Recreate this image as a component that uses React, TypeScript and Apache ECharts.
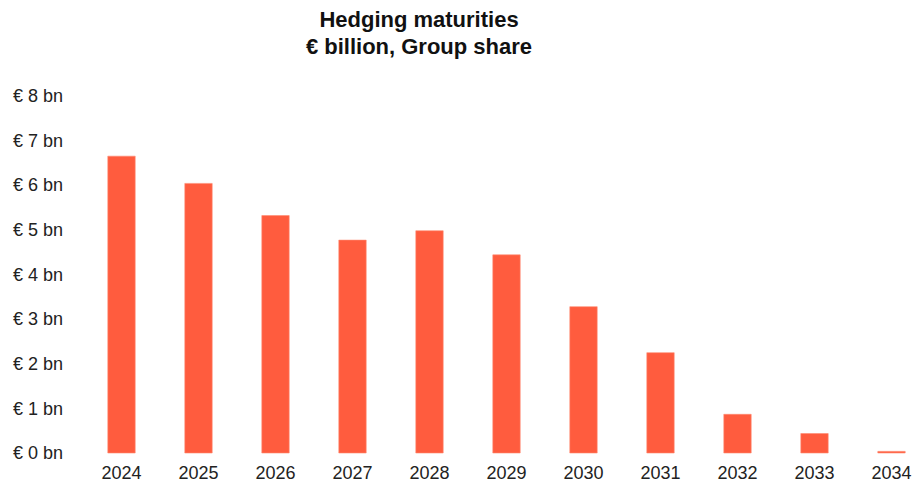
import React, { useEffect, useRef } from "react";
import * as echarts from "echarts";

const years = ["2024", "2025", "2026", "2027", "2028", "2029", "2030", "2031", "2032", "2033", "2034"];
const maturities = [6.66, 6.05, 5.33, 4.78, 4.99, 4.45, 3.29, 2.26, 0.88, 0.45, 0.05];
const titleLines = ["Hedging maturities", "€ billion, Group share"];

export default function App() {
  const ref = useRef<HTMLDivElement>(null);
  useEffect(() => {
    document.body.style.margin = "0";
    document.body.style.overflow = "hidden";
    document.documentElement.style.overflow = "hidden";
    const chart = echarts.init(ref.current!, undefined, { renderer: "svg" });
    const font = "'Liberation Sans', Arial, sans-serif";
    chart.setOption({
      animation: false,
      graphic: [
        {
          type: "text",
          x: 419,
          y: 6,
          style: {
            text: titleLines.join("\n"),
            textAlign: "center",
            textVerticalAlign: "top",
            fontFamily: font,
            fontWeight: "bold",
            fontSize: 22,
            lineHeight: 27,
            fill: "#111",
          },
        },
      ],
      grid: { left: 83, right: 0, top: 96, bottom: 30.7, containLabel: false },
      xAxis: {
        type: "category",
        data: years,
        axisLine: { show: false },
        axisTick: { show: false },
        axisLabel: { color: "#222", fontSize: 18, fontFamily: font, margin: 11, interval: 0 },
      },
      yAxis: {
        type: "value",
        min: 0,
        max: 8,
        interval: 1,
        splitLine: { show: false },
        axisLine: { show: false },
        axisTick: { show: false },
        axisLabel: {
          color: "#222",
          fontSize: 18,
          fontFamily: font,
          align: "left",
          margin: 70,
          formatter: (v: number) => `€ ${v} bn`,
        },
      },
      series: [
        {
          type: "bar",
          data: maturities,
          barWidth: 28,
          itemStyle: { color: "#FF5C3E", borderColor: "#FF8A70", borderWidth: 0.6 },
        },
      ],
    });
    return () => chart.dispose();
  }, []);
  return <div ref={ref} style={{ position: "absolute", left: 0, top: 0, width: 930, height: 484 }} />;
}
